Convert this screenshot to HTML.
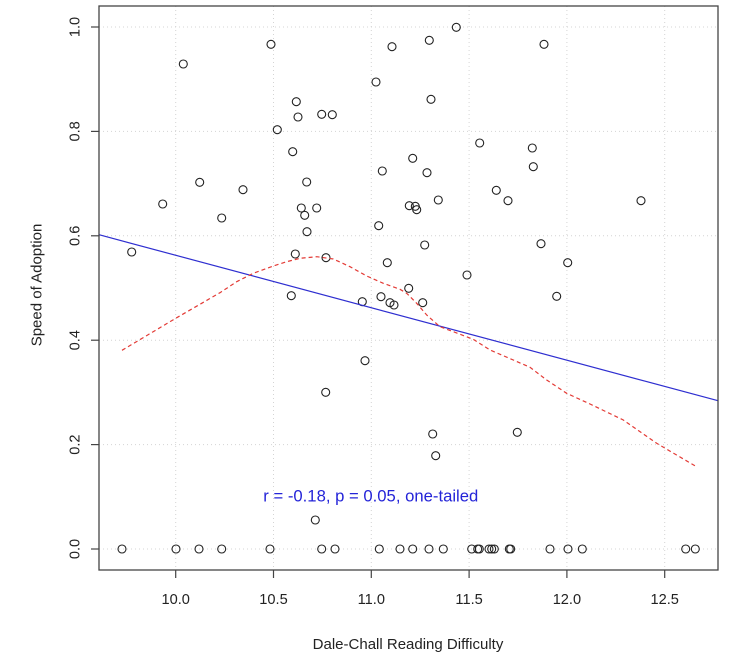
<!DOCTYPE html>
<html><head><meta charset="utf-8"><style>
html,body{margin:0;padding:0;background:#fff;}
svg{display:block;}
text{font-family:"Liberation Sans",Arial,sans-serif;}
</style></head><body>
<svg width="750" height="658" viewBox="0 0 750 658" xmlns="http://www.w3.org/2000/svg">
<rect width="750" height="658" fill="#fff"/>
<g stroke="#d4d4d4" stroke-width="1" stroke-dasharray="1,3" fill="none">
<line x1="175.7" y1="6" x2="175.7" y2="570"/>
<line x1="273.5" y1="6" x2="273.5" y2="570"/>
<line x1="371.3" y1="6" x2="371.3" y2="570"/>
<line x1="469.1" y1="6" x2="469.1" y2="570"/>
<line x1="566.9" y1="6" x2="566.9" y2="570"/>
<line x1="664.7" y1="6" x2="664.7" y2="570"/>
<line x1="99" y1="549" x2="718" y2="549"/>
<line x1="99" y1="444.6" x2="718" y2="444.6"/>
<line x1="99" y1="340.2" x2="718" y2="340.2"/>
<line x1="99" y1="235.8" x2="718" y2="235.8"/>
<line x1="99" y1="131.4" x2="718" y2="131.4"/>
<line x1="99" y1="27" x2="718" y2="27"/>
</g>
<g fill="none" stroke="#222" stroke-width="1.1">
<circle cx="122" cy="549" r="4"/><circle cx="176" cy="549" r="4"/><circle cx="199" cy="549" r="4"/><circle cx="221.7" cy="549" r="4"/><circle cx="270" cy="549" r="4"/><circle cx="321.7" cy="549" r="4"/><circle cx="335" cy="549" r="4"/><circle cx="379.3" cy="549" r="4"/><circle cx="400" cy="549" r="4"/><circle cx="412.7" cy="549" r="4"/><circle cx="429" cy="549" r="4"/><circle cx="443.3" cy="549" r="4"/><circle cx="471.7" cy="549" r="4"/><circle cx="477.7" cy="549" r="4"/><circle cx="479.3" cy="549" r="4"/><circle cx="489" cy="549" r="4"/><circle cx="491.7" cy="549" r="4"/><circle cx="494.3" cy="549" r="4"/><circle cx="509.3" cy="549" r="4"/><circle cx="510.7" cy="549" r="4"/><circle cx="550" cy="549" r="4"/><circle cx="568" cy="549" r="4"/><circle cx="582.3" cy="549" r="4"/><circle cx="685.7" cy="549" r="4"/><circle cx="695.3" cy="549" r="4"/>
<circle cx="271" cy="44.3" r="4"/><circle cx="183.3" cy="64" r="4"/><circle cx="296.3" cy="101.7" r="4"/><circle cx="298" cy="117" r="4"/><circle cx="321.7" cy="114.3" r="4"/><circle cx="332.3" cy="114.7" r="4"/><circle cx="277.3" cy="129.7" r="4"/><circle cx="292.7" cy="151.7" r="4"/><circle cx="199.7" cy="182.3" r="4"/><circle cx="243" cy="189.7" r="4"/><circle cx="306.7" cy="182" r="4"/><circle cx="162.7" cy="204" r="4"/><circle cx="221.7" cy="218" r="4"/><circle cx="301.3" cy="208" r="4"/><circle cx="316.7" cy="208" r="4"/><circle cx="304.7" cy="215.3" r="4"/><circle cx="307" cy="231.7" r="4"/><circle cx="131.7" cy="252" r="4"/><circle cx="295.3" cy="254" r="4"/><circle cx="326" cy="257.7" r="4"/>
<circle cx="456.3" cy="27.3" r="4"/><circle cx="429.3" cy="40.3" r="4"/><circle cx="392" cy="46.7" r="4"/><circle cx="544" cy="44.3" r="4"/><circle cx="376" cy="82" r="4"/><circle cx="431" cy="99.3" r="4"/><circle cx="479.7" cy="143" r="4"/><circle cx="532.3" cy="148" r="4"/><circle cx="412.7" cy="158.3" r="4"/><circle cx="382.3" cy="171" r="4"/><circle cx="427" cy="172.7" r="4"/><circle cx="533.3" cy="166.7" r="4"/><circle cx="496.3" cy="190.3" r="4"/><circle cx="508" cy="200.7" r="4"/><circle cx="438.3" cy="200" r="4"/><circle cx="409.3" cy="205.7" r="4"/><circle cx="415.3" cy="206.3" r="4"/><circle cx="416.7" cy="209.7" r="4"/><circle cx="378.7" cy="225.7" r="4"/><circle cx="424.7" cy="245" r="4"/><circle cx="541" cy="243.7" r="4"/><circle cx="387.3" cy="262.7" r="4"/><circle cx="567.7" cy="262.7" r="4"/><circle cx="467" cy="275" r="4"/><circle cx="408.7" cy="288.3" r="4"/>
<circle cx="291.3" cy="295.7" r="4"/><circle cx="325.7" cy="392.3" r="4"/><circle cx="315.3" cy="520" r="4"/>
<circle cx="362.3" cy="301.7" r="4"/><circle cx="381" cy="296.7" r="4"/><circle cx="390" cy="302.7" r="4"/><circle cx="394" cy="305" r="4"/><circle cx="422.7" cy="302.7" r="4"/><circle cx="556.7" cy="296.3" r="4"/><circle cx="365" cy="360.7" r="4"/><circle cx="432.7" cy="434" r="4"/><circle cx="435.7" cy="455.7" r="4"/><circle cx="517.3" cy="432.3" r="4"/>
<circle cx="641" cy="200.7" r="4"/>
</g>
<line x1="99" y1="234.7" x2="718" y2="400.7" stroke="#2e2ed0" stroke-width="1.2"/>
<polyline fill="none" stroke="#e33b36" stroke-width="1.2" stroke-dasharray="4,3" points="122,350.3 175.7,318.3 220,292.7 236.7,281.7 253.3,273.3 273.3,266 286.7,261.7 300,258.3 316.7,256.7 333.3,259 350,266.7 366.7,276 383.3,283.3 400,289.3 406.7,293.3 416.7,303.3 426.7,315 440,326.7 453.3,331.7 473.3,339.3 490,350 513.3,360 530,367.3 546.7,380 566.7,393.3 590,404 623.3,420 656.7,443.3 695.3,466"/>
<rect x="99" y="6" width="619" height="564" fill="none" stroke="#444" stroke-width="1.3"/>
<g stroke="#444" stroke-width="1.2">
<line x1="175.7" y1="570" x2="175.7" y2="578"/>
<line x1="273.5" y1="570" x2="273.5" y2="578"/>
<line x1="371.3" y1="570" x2="371.3" y2="578"/>
<line x1="469.1" y1="570" x2="469.1" y2="578"/>
<line x1="566.9" y1="570" x2="566.9" y2="578"/>
<line x1="664.7" y1="570" x2="664.7" y2="578"/>
<line x1="91" y1="549" x2="99" y2="549"/>
<line x1="91" y1="444.6" x2="99" y2="444.6"/>
<line x1="91" y1="340.2" x2="99" y2="340.2"/>
<line x1="91" y1="235.8" x2="99" y2="235.8"/>
<line x1="91" y1="131.4" x2="99" y2="131.4"/>
<line x1="91" y1="27" x2="99" y2="27"/>
</g>
<g fill="#222" font-size="14.6" text-anchor="middle">
<text x="175.7" y="604">10.0</text>
<text x="273.5" y="604">10.5</text>
<text x="371.3" y="604">11.0</text>
<text x="469.1" y="604">11.5</text>
<text x="566.9" y="604">12.0</text>
<text x="664.7" y="604">12.5</text>
<text transform="translate(79.3,549) rotate(-90)">0.0</text>
<text transform="translate(79.3,444.6) rotate(-90)">0.2</text>
<text transform="translate(79.3,340.2) rotate(-90)">0.4</text>
<text transform="translate(79.3,235.8) rotate(-90)">0.6</text>
<text transform="translate(79.3,131.4) rotate(-90)">0.8</text>
<text transform="translate(79.3,27) rotate(-90)">1.0</text>
</g>
<text x="408" y="649" font-size="15" fill="#222" text-anchor="middle">Dale-Chall Reading Difficulty</text>
<text transform="translate(41.5,285) rotate(-90)" font-size="15" fill="#222" text-anchor="middle">Speed of Adoption</text>
<text x="263.3" y="501.7" font-size="16.5" fill="#2424d8" textLength="215" lengthAdjust="spacingAndGlyphs">r = -0.18, p = 0.05, one-tailed</text>
</svg>
</body></html>
